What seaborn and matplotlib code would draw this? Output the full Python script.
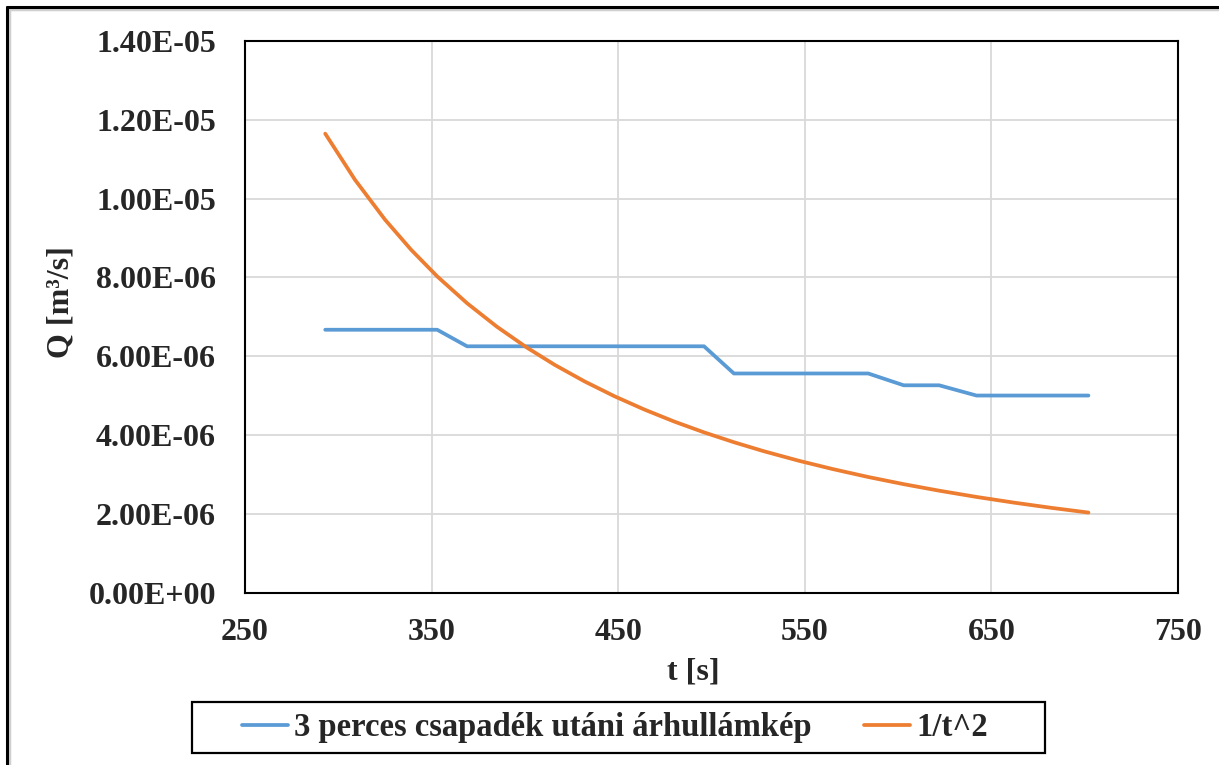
import matplotlib
matplotlib.use("Agg")
import matplotlib.pyplot as plt
import seaborn as sns
import pandas as pd
from matplotlib.patches import Rectangle
from matplotlib.lines import Line2D

t_s = [293, 309, 325, 339, 353, 369, 385, 401, 416, 432, 448, 464, 480, 496,
       512, 528, 547, 565, 584, 603, 622, 642, 662, 682, 702]
q_measured = [6.67e-6, 6.67e-6, 6.67e-6, 6.67e-6, 6.67e-6,
              6.25e-6, 6.25e-6, 6.25e-6, 6.25e-6, 6.25e-6, 6.25e-6, 6.25e-6, 6.25e-6, 6.25e-6,
              5.56e-6, 5.56e-6, 5.56e-6, 5.56e-6, 5.56e-6,
              5.26e-6, 5.26e-6,
              5.00e-6, 5.00e-6, 5.00e-6, 5.00e-6]
q_inv_t2 = [1.1648e-5, 1.0473e-5, 9.467e-6, 8.702e-6, 8.025e-6, 7.344e-6, 6.747e-6,
            6.219e-6, 5.778e-6, 5.358e-6, 4.982e-6, 4.645e-6, 4.340e-6, 4.065e-6,
            3.815e-6, 3.587e-6, 3.342e-6, 3.133e-6, 2.932e-6, 2.750e-6, 2.585e-6,
            2.426e-6, 2.282e-6, 2.150e-6, 2.029e-6]
series_names = ["3 perces csapadék utáni árhullámkép", "1/t^2"]
x_ticks = [250, 350, 450, 550, 650, 750]
y_ticks = [0, 2e-6, 4e-6, 6e-6, 8e-6, 1e-5, 1.2e-5, 1.4e-5]
y_tick_labels = ["0.00E+00", "2.00E-06", "4.00E-06", "6.00E-06", "8.00E-06",
                 "1.00E-05", "1.20E-05", "1.40E-05"]

df = pd.concat([
    pd.DataFrame({"t": t_s, "Q": q_measured, "series": series_names[0]}),
    pd.DataFrame({"t": t_s, "Q": q_inv_t2, "series": series_names[1]}),
])

sns.set_theme(style="whitegrid")
plt.rcParams["font.family"] = ["Liberation Serif", "DejaVu Serif"]
plt.rcParams["font.weight"] = "bold"

W, H = 1219, 765
fig = plt.figure(figsize=(W / 100, H / 100), dpi=100)
ax_l, ax_r, ax_t, ax_b = 245, 1178, 41, 592.5
ax = fig.add_axes([ax_l / W, 1 - ax_b / H, (ax_r - ax_l) / W, (ax_b - ax_t) / H])

sns.lineplot(data=df, x="t", y="Q", hue="series", palette=["#5B9BD5", "#ED7D31"],
             linewidth=2.7, ax=ax, sort=False, estimator=None)

ax.set_xlim(250, 750)
ax.set_ylim(0, 1.4e-5)
ax.set_xticks(x_ticks)
ax.set_xticklabels([str(v) for v in x_ticks], fontsize=23, fontweight="bold")
ax.set_yticks(y_ticks)
ax.set_yticklabels(y_tick_labels, fontsize=23, fontweight="bold")
ax.tick_params(axis="y", length=0, pad=21)
ax.tick_params(axis="x", length=0, pad=18)
ax.grid(True, color="#d9d9d9", linewidth=1.3)
for s in ax.spines.values():
    s.set_visible(True)
    s.set_color("black")
    s.set_linewidth(1.5)
ax.set_xlabel("t [s]", fontsize=23, fontweight="bold")
ax.set_ylabel("Q [m³/s]", fontsize=23, fontweight="bold")
ax.xaxis.set_label_coords(0.480, -0.118)
ax.yaxis.set_label_coords(-0.182, 0.527)

handles, labels = ax.get_legend_handles_labels()
ax.get_legend().remove()
leg = fig.legend(handles, labels, loc="center", bbox_to_anchor=(0.5045, 0.049),
                 ncol=2, frameon=False,
                 prop={"family": "Liberation Serif", "weight": "bold", "size": 23.5},
                 handlelength=1.4, handletextpad=0.2, columnspacing=1.6,
                 borderpad=0.2, borderaxespad=0)
fig.patches.append(Rectangle((192 / W, 1 - 753 / H), (1045 - 192) / W, (753 - 702) / H,
                             transform=fig.transFigure, fill=False,
                             edgecolor="black", linewidth=1.6))

# outer frame (only top and left edges visible)
fig.lines.append(Line2D([9 / W, 9 / W], [1 - 8 / H, 0], transform=fig.transFigure,
                        color="#d0d0d0", linewidth=2.5))
fig.lines.append(Line2D([8 / W, 1], [1 - 9 / H, 1 - 9 / H], transform=fig.transFigure,
                        color="#d0d0d0", linewidth=2.5))
fig.lines.append(Line2D([7 / W, 7 / W], [1 - 7 / H, 0], transform=fig.transFigure,
                        color="black", linewidth=2.2))
fig.lines.append(Line2D([7 / W, 1], [1 - 7 / H, 1 - 7 / H], transform=fig.transFigure,
                        color="black", linewidth=2.2))

fig.savefig("out.png", dpi=100)
